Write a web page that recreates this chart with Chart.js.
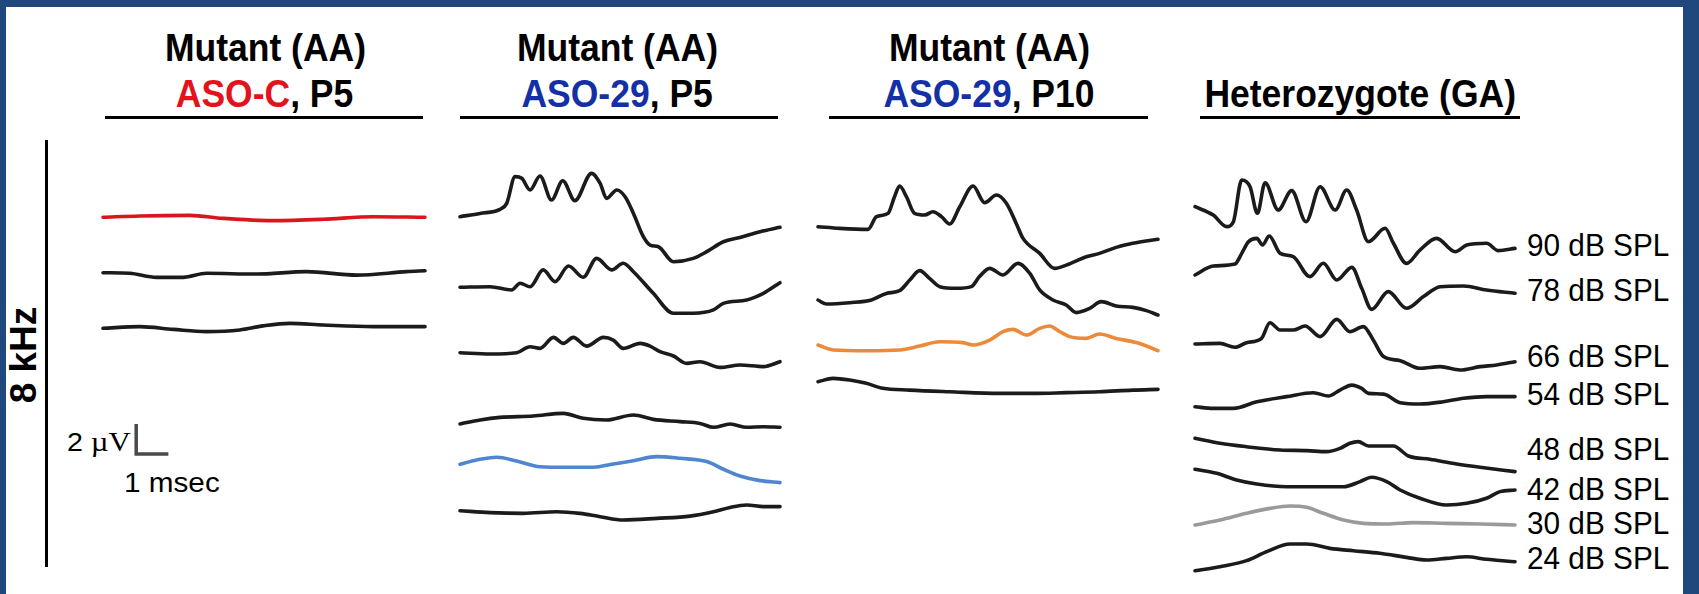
<!DOCTYPE html>
<html><head><meta charset="utf-8">
<script src="https://cdn.jsdelivr.net/npm/chart.js@4.4.1/dist/chart.umd.min.js"></script>
<style>
html,body{margin:0;padding:0;background:#fff;}
#page{position:relative;width:1699px;height:594px;overflow:hidden;background:#fff;font-family:"Liberation Sans",Arial,sans-serif;color:#000;}
.frame{position:absolute;background:#1f497d;}
.title{position:absolute;width:420px;text-align:center;font-weight:bold;font-size:39px;line-height:39px;white-space:nowrap;}
.title .in{display:inline-block;transform:scaleX(0.91);}
.ul{position:absolute;height:3px;background:#000;top:116px;}
.db{position:absolute;left:1527px;font-size:32px;line-height:32px;white-space:nowrap;transform:scaleX(0.93);transform-origin:left center;}
canvas{position:absolute;}
</style></head>
<body><div id="page"></div>
<script>
// ---------------- DATA: ABR traces, [time ms, amplitude µV] ----------------
const dbLevels = ["90 dB SPL","78 dB SPL","66 dB SPL","54 dB SPL","48 dB SPL","42 dB SPL","30 dB SPL","24 dB SPL"];
const panelTitles1 = ["Mutant (AA)","Mutant (AA)","Mutant (AA)",""];
const panelTreat = ["ASO-C","ASO-29","ASO-29","Heterozygote (GA)"];
const panelAge = [", P5",", P5",", P10",""];

// Panel 1: Mutant ASO-C P5
const p1_a = [[0,0],[1.14,.09],[2.69,.13],[3.73,-.07],[5.28,-.22],[6.84,-.13],[8.39,.04],[10,0]];
const p1_b = [[0,0],[.83,-.04],[1.66,-.31],[2.49,-.31],[3.21,-.04],[4.77,-.09],[6.32,.07],[7.88,-.16],[9.43,.07],[10,.13]];
const p1_c = [[0,0],[1.14,.11],[2.18,-.07],[3.21,-.22],[4.25,-.11],[4.97,.16],[5.8,.33],[6.84,.22],[8.39,.11],[10,.11]];

// Panel 2: Mutant ASO-29 P5
const p2_a = [[0,0],[.625,.22],[1.25,.49],[1.46,.89],[1.72,2.67],[1.93,2.56],[2.19,1.78],[2.5,2.71],[2.86,1.11],[3.21,2.4],[3.59,1.07],[4.11,2.89],[4.38,2.22],[4.58,1.22],[4.9,1.78],[5.16,1.33],[5.42,.22],[5.73,-1.33],[5.94,-1.89],[6.2,-2.0],[6.67,-3.0],[7.29,-2.78],[7.71,-2.33],[8.23,-1.67],[8.75,-1.38],[9.38,-1.0],[10,-.71]];
const p2_b = [[0,0],[.94,.04],[1.61,-.18],[1.88,.27],[2.19,.04],[2.6,1.16],[2.97,.38],[3.39,1.42],[3.85,.67],[4.27,1.93],[4.74,1.16],[5.1,1.6],[5.42,1.04],[6.04,-.4],[6.67,-1.73],[7.29,-1.73],[7.92,-1.51],[8.23,-1.07],[8.96,-.84],[9.48,-.4],[10,.31]];
const p2_c = [[0,0],[.94,-.09],[1.77,0],[2.19,.4],[2.5,.29],[2.92,1.02],[3.23,.62],[3.54,1.02],[3.96,.44],[4.48,1.02],[4.79,.84],[5.1,.29],[5.63,.62],[5.94,.44],[6.25,.07],[6.67,-.22],[7.08,-.71],[7.5,-.6],[8.13,-.98],[8.75,-.82],[9.48,-.93],[10,-.6]];
const p2_d = [[0,0],[.63,.27],[1.25,.44],[2.29,.53],[3.23,.71],[3.85,.38],[4.58,.27],[5.42,.6],[6.04,.31],[6.88,.16],[7.5,.04],[7.92,-.22],[8.44,0],[8.96,-.22],[9.48,-.18],[10,-.22]];
const p2_e = [[0,0],[.52,.29],[1.15,.47],[1.77,.22],[2.5,-.16],[3.33,-.2],[4.17,-.2],[4.79,.02],[5.42,.24],[6.15,.51],[6.88,.4],[7.71,.18],[8.23,-.33],[8.75,-.78],[9.38,-1.09],[10,-1.22]];
const p2_f = [[0,0],[.94,-.13],[1.98,-.18],[3.02,-.07],[3.75,-.18],[4.38,-.4],[5.1,-.62],[6.15,-.51],[7.19,-.36],[7.92,-.07],[8.44,.22],[8.96,.38],[9.48,.27],[10,.27]];

// Panel 3: Mutant ASO-29 P10
const p3_a = [[0,0],[.64,-.11],[1.47,-.18],[1.72,.67],[2.06,.89],[2.25,2.0],[2.4,2.71],[2.6,2.0],[2.84,.89],[3.14,.78],[3.38,1.0],[3.63,.67],[3.87,.18],[4.17,1.33],[4.56,2.71],[4.9,1.6],[5.25,2.11],[5.54,1.56],[5.83,.22],[6.03,-.78],[6.52,-1.78],[6.96,-2.78],[7.3,-2.56],[7.89,-2.0],[8.28,-1.78],[8.77,-1.38],[9.26,-1.11],[10,-.84]];
const p3_b = [[0,0],[.25,-.27],[.93,-.18],[1.57,0],[2.01,.44],[2.4,.62],[2.7,1.33],[2.99,1.96],[3.28,1.44],[3.58,.89],[4.07,.78],[4.51,.89],[4.75,1.56],[5.05,2.11],[5.44,1.67],[5.88,2.44],[6.23,1.78],[6.52,.67],[6.91,0],[7.3,-.33],[7.6,-.84],[7.99,-.56],[8.33,-.11],[8.77,-.4],[9.26,-.49],[9.66,-.71],[10,-1.0]];
const p3_c = [[0,0],[.44,-.33],[1.42,-.38],[2.4,-.33],[2.99,-.07],[3.58,.22],[4.26,.16],[4.56,0],[5.05,.33],[5.44,.89],[5.74,1.04],[6.13,.67],[6.52,1.11],[6.81,1.27],[7.11,.89],[7.4,.56],[7.89,.44],[8.28,.73],[8.77,.44],[9.36,.16],[9.66,-.07],[10,-.38]];
const p3_d = [[0,0],[.44,.22],[.93,.11],[1.42,-.11],[1.91,-.44],[2.7,-.56],[3.87,-.67],[5.34,-.78],[6.32,-.78],[7.3,-.73],[8.28,-.67],[9.26,-.56],[10,-.51]];

// Panel 4: Heterozygote (GA), 90 ... 24 dB SPL
const p4_90 = [[0,0],[.57,-.56],[.99,-1.33],[1.2,-1.0],[1.46,1.78],[1.72,1.33],[1.95,-.44],[2.19,1.6],[2.6,-.22],[3.02,1.07],[3.47,-1.0],[3.91,1.33],[4.38,-.22],[4.74,1.11],[5.05,-.22],[5.42,-2.33],[5.94,-1.44],[6.2,-2.44],[6.61,-3.78],[7.03,-2.89],[7.55,-2.11],[8.13,-3.0],[8.49,-2.56],[9.11,-2.44],[9.48,-2.93],[10,-2.78]];
const p4_78 = [[0,0],[.57,.6],[1.25,.73],[1.46,1.44],[1.67,2.22],[1.93,2.44],[2.11,2.0],[2.32,2.6],[2.66,1.44],[3.07,1.22],[3.59,-.11],[4.01,.78],[4.43,-.33],[4.9,.51],[5.21,-.89],[5.52,-2.29],[6.04,-1.11],[6.61,-2.22],[7.14,-1.44],[7.66,-.78],[8.39,-.73],[9.11,-1.0],[10,-1.22]];
const p4_66 = [[0,0],[.78,.04],[1.25,-.22],[1.61,.09],[2.08,.38],[2.34,1.42],[2.66,.93],[3.07,.93],[3.44,1.2],[3.91,.49],[4.43,1.64],[4.84,.82],[5.26,1.16],[5.57,.27],[5.89,-.84],[6.41,-1.11],[7.03,-1.62],[7.66,-1.51],[8.28,-1.73],[8.91,-1.51],[9.43,-1.4],[10,-1.18]];
const p4_54 = [[0,0],[.57,-.11],[1.2,-.11],[1.93,.33],[2.86,.67],[3.7,.93],[4.17,.71],[4.53,1.11],[4.9,1.44],[5.21,1.22],[5.42,.89],[5.89,.84],[6.41,.27],[7.03,.18],[7.76,.33],[8.39,.56],[9.11,.67],[10,.67]];
const p4_48 = [[0,0],[.78,-.33],[1.61,-.56],[2.66,-.78],[3.49,-.82],[4.11,-.89],[4.53,-.67],[4.84,-.33],[5.1,-.22],[5.42,-.51],[5.78,-.51],[6.2,-.51],[6.67,-1.18],[7.34,-1.4],[8.18,-1.71],[8.91,-1.93],[10,-2.22]];
const p4_42 = [[0,0],[.68,-.27],[1.3,-.71],[1.93,-.98],[2.86,-1.16],[3.91,-1.16],[4.64,-1.16],[5.16,-.82],[5.52,-.53],[5.99,-.82],[6.41,-1.38],[7.03,-1.93],[7.86,-2.38],[8.49,-2.27],[9.11,-1.93],[9.53,-1.49],[10,-1.38]];
const p4_30 = [[0,0],[.78,.33],[1.61,.78],[2.34,1.11],[2.97,1.27],[3.49,1.18],[4.01,.78],[4.64,.33],[5.26,.11],[5.99,.07],[6.82,.16],[7.86,.11],[8.91,.07],[10,0]];
const p4_24 = [[0,0],[.78,.27],[1.61,.67],[2.24,1.27],[2.97,1.78],[3.49,1.78],[4.22,1.49],[4.95,1.33],[5.78,1.16],[6.61,.89],[7.24,.71],[7.86,.82],[8.49,.93],[9.11,.76],[10,.6]];

// Scale bar: 2 µV by 1 ms
const scaleBarUV = 2;
const scaleBarMs = 1;

// ---------------- LAYOUT / STYLE ----------------
const PX_PER_UV = 15, CANVAS_TOP = 130, CANVAS_H = 460, PAD = 10;
const K = '#1b1b1b', RED = '#d9161e', BLUE = '#4f86cf', ORANGE = '#ec8a3c', GRAY = '#9a9a9a';
const panels = [
  {x0:103.3, w:322, center:265, ul:[105,423], traces:[p1_a,p1_b,p1_c], base:[217.3,272.7,328.3], colors:[RED,K,K], treatColor:'#e3121b'},
  {x0:460, w:320, center:617, ul:[460,778], traces:[p2_a,p2_b,p2_c,p2_d,p2_e,p2_f], base:[216.7,287.3,352.7,424,464.3,510.7], colors:[K,K,K,K,BLUE,K], treatColor:'#1430a6'},
  {x0:818.3, w:340, center:989, ul:[829,1148], traces:[p3_a,p3_b,p3_c,p3_d], base:[226.7,300,345,381.7], colors:[K,K,ORANGE,K], treatColor:'#1430a6'},
  {x0:1195, w:320, center:1360, ul:[1200,1520], traces:[p4_90,p4_78,p4_66,p4_54,p4_48,p4_42,p4_30,p4_24], base:[206.7,275,344,406.7,438.3,469.3,525,570.7], colors:[K,K,K,K,K,K,GRAY,K], treatColor:'#000'}
];
const dbLabelCenters = [245,290,356,394,449,489,523,558];

const page = document.getElementById('page');
function el(tag, cls, css, html){const e=document.createElement(tag); if(cls)e.className=cls; if(css)e.style.cssText=css; if(html!==undefined)e.innerHTML=html; page.appendChild(e); return e;}

// frame
el('div','frame','left:0;top:0;width:1699px;height:7px;');
el('div','frame','left:0;top:0;width:6px;height:594px;');
el('div','frame','left:1683px;top:0;width:16px;height:594px;');

// titles
panels.forEach((p,i)=>{
  if(panelTitles1[i]) el('div','title',`left:${p.center-210}px;top:28px;`,`<span class="in">${panelTitles1[i]}</span>`);
  el('div','title',`left:${p.center-210}px;top:74px;`,`<span class="in"><span style="color:${p.treatColor}">${panelTreat[i]}</span>${panelAge[i]}</span>`);
  el('div','ul',`left:${p.ul[0]}px;width:${p.ul[1]-p.ul[0]}px;`);
});

// left axis + label
el('div','', 'position:absolute;left:45px;top:140px;width:2.5px;height:427px;background:#000;');
el('div','', 'position:absolute;left:-46px;top:335px;width:140px;height:40px;line-height:40px;text-align:center;font-weight:bold;font-size:37px;transform:rotate(-90deg);white-space:nowrap;','8 kHz');

// scale bar labels
el('div','', 'position:absolute;left:67px;top:428px;font-family:\'Liberation Sans\',Arial,sans-serif;font-size:26px;line-height:28px;white-space:nowrap;transform:scaleX(1.1);transform-origin:left center;','2 <span style="font-family:\'Liberation Serif\',serif;font-size:28px;">µV</span>');
el('div','', 'position:absolute;left:124px;top:470px;font-size:27px;line-height:27px;white-space:nowrap;transform:scaleX(1.1);transform-origin:left center;','1 msec');

// dB labels
dbLevels.forEach((t,i)=>el('div','db',`top:${dbLabelCenters[i]-15.7}px;`,t));

// charts
panels.forEach((p,pi)=>{
  const cv = document.createElement('canvas');
  const left = p.x0 - PAD, width = p.w + 2*PAD;
  cv.width = width; cv.height = CANVAS_H;
  cv.style.left = left+'px'; cv.style.top = CANVAS_TOP+'px';
  cv.style.width = width+'px'; cv.style.height = CANVAS_H+'px';
  page.appendChild(cv);
  const msPerPx = 10 / p.w;
  const datasets = p.traces.map((tr,ti)=>{
    const off = -(p.base[ti]-CANVAS_TOP)/PX_PER_UV;
    return {data: tr.map(([t,v])=>({x:t,y:off+v})), borderColor:p.colors[ti], borderWidth:3.6, fill:false, pointRadius:0, cubicInterpolationMode:'monotone'};
  });
  if(pi===0){
    const t0 = (136.5 - p.x0)*msPerPx, yb = -(454-CANVAS_TOP)/PX_PER_UV;
    datasets.push({data:[{x:t0,y:yb+scaleBarUV},{x:t0,y:yb},{x:t0+scaleBarMs,y:yb}], borderColor:'#4a4a4a', borderWidth:3.5, fill:false, pointRadius:0, tension:0, borderJoinStyle:'miter', borderCapStyle:'butt'});
  }
  new Chart(cv, {
    type:'line',
    data:{datasets},
    options:{
      responsive:false, animation:false, devicePixelRatio:1, events:[],
      layout:{padding:0},
      plugins:{legend:{display:false}, tooltip:{enabled:false}},
      scales:{
        x:{type:'linear', display:false, min:-PAD*msPerPx, max:10+PAD*msPerPx},
        y:{type:'linear', display:false, min:-CANVAS_H/PX_PER_UV, max:0}
      },
      elements:{line:{borderCapStyle:'round', borderJoinStyle:'round'}}
    }
  });
});
</script>
</body></html>
